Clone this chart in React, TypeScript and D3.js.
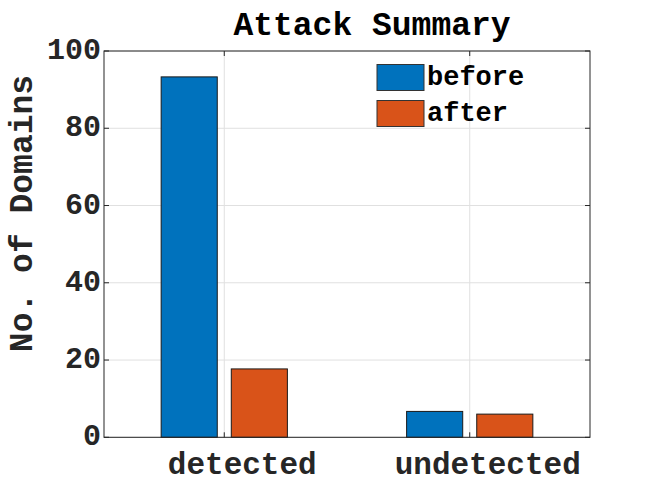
import React from "react";
import * as d3 from "d3";

const categories = ["detected", "undetected"];
const seriesNames = ["before", "after"];
const beforeValues = [93.3, 6.7];
const afterValues = [17.7, 6.0];
const yTicks = [0, 20, 40, 60, 80, 100];
const colors = ["#0072BD", "#D95319"];

const W = 654;
const H = 491;
const FONT = "'Liberation Mono', 'Courier New', monospace";

export default function App() {
  const left = 104, right = 590, top = 51, bottom = 437.3;
  const x = d3.scaleLinear().domain([0.51, 2.49]).range([left, right]);
  const y = d3.scaleLinear().domain([0, 100]).range([bottom, top]);
  const series = [beforeValues, afterValues];
  const groupWidth = Math.min(0.8, 2 / (2 + 1.5));
  const barW = (groupWidth / 2) * 0.8;
  const offsets = [-groupWidth / 4, groupWidth / 4];
  const axisColor = "#262626";
  const gridColor = "#e0e0e0";
  const tickLen = 5;

  return (
    <svg width={W} height={H} style={{ position: "absolute", left: 0, top: 0, background: "#fff" }}>
      <rect x={0} y={0} width={W} height={H} fill="#fff" />
      {/* grid */}
      {yTicks.map((t) => (
        <line key={"gy" + t} x1={left} x2={right} y1={y(t)} y2={y(t)} stroke={gridColor} strokeWidth={1} />
      ))}
      {categories.map((c, i) => (
        <line key={"gx" + c} x1={x(i + 1)} x2={x(i + 1)} y1={top} y2={bottom} stroke={gridColor} strokeWidth={1} />
      ))}
      {/* bars */}
      {series.map((vals, s) =>
        vals.map((v, i) => {
          const cx = i + 1 + offsets[s];
          const x0 = x(cx - barW / 2);
          const x1 = x(cx + barW / 2);
          return (
            <rect
              key={`b${s}-${i}`}
              x={x0}
              y={y(v)}
              width={x1 - x0}
              height={y(0) - y(v)}
              fill={colors[s]}
              stroke="#1a1a1a"
              strokeWidth={1}
            />
          );
        })
      )}
      {/* box */}
      <rect x={left} y={top} width={right - left} height={bottom - top} fill="none" stroke={axisColor} strokeWidth={1} />
      {/* ticks */}
      {yTicks.map((t) => (
        <g key={"ty" + t}>
          <line x1={left} x2={left + tickLen} y1={y(t)} y2={y(t)} stroke={axisColor} />
          <line x1={right} x2={right - tickLen} y1={y(t)} y2={y(t)} stroke={axisColor} />
          <text
            x={left - 3}
            y={y(t)}
            textAnchor="end"
            dominantBaseline="central"
            fontFamily={FONT}
            fontWeight="bold"
            fontSize={30}
            fill={axisColor}
          >
            {t}
          </text>
        </g>
      ))}
      {categories.map((c, i) => (
        <g key={"tx" + c}>
          <line x1={x(i + 1)} x2={x(i + 1)} y1={bottom} y2={bottom - tickLen} stroke={axisColor} />
          <line x1={x(i + 1)} x2={x(i + 1)} y1={top} y2={top + tickLen} stroke={axisColor} />
          <text
            x={x(i + 1) + 18}
            y={474}
            textAnchor="middle"
            fontFamily={FONT}
            fontWeight="bold"
            fontSize={31}
            fill={axisColor}
          >
            {c}
          </text>
        </g>
      ))}
      {/* y label */}
      <text
        transform={`translate(23, 213.5) rotate(-90)`}
        textAnchor="middle"
        dominantBaseline="central"
        fontFamily={FONT}
        fontWeight="bold"
        fontSize={33}
        fill={axisColor}
      >
        No. of Domains
      </text>
      {/* title */}
      <text x={372} y={35} textAnchor="middle" fontFamily={FONT} fontWeight="bold" fontSize={33} fill="#000">
        Attack Summary
      </text>
      {/* legend */}
      {seriesNames.map((n, s) => {
        const cy = 77.5 + s * 36;
        return (
          <g key={"lg" + n}>
            <rect x={377} y={cy - 13} width={47} height={26} fill={colors[s]} stroke="#333" strokeWidth={1} />
            <text x={427} y={cy} dominantBaseline="central" fontFamily={FONT} fontWeight="bold" fontSize={27} fill="#000">
              {n}
            </text>
          </g>
        );
      })}
    </svg>
  );
}
